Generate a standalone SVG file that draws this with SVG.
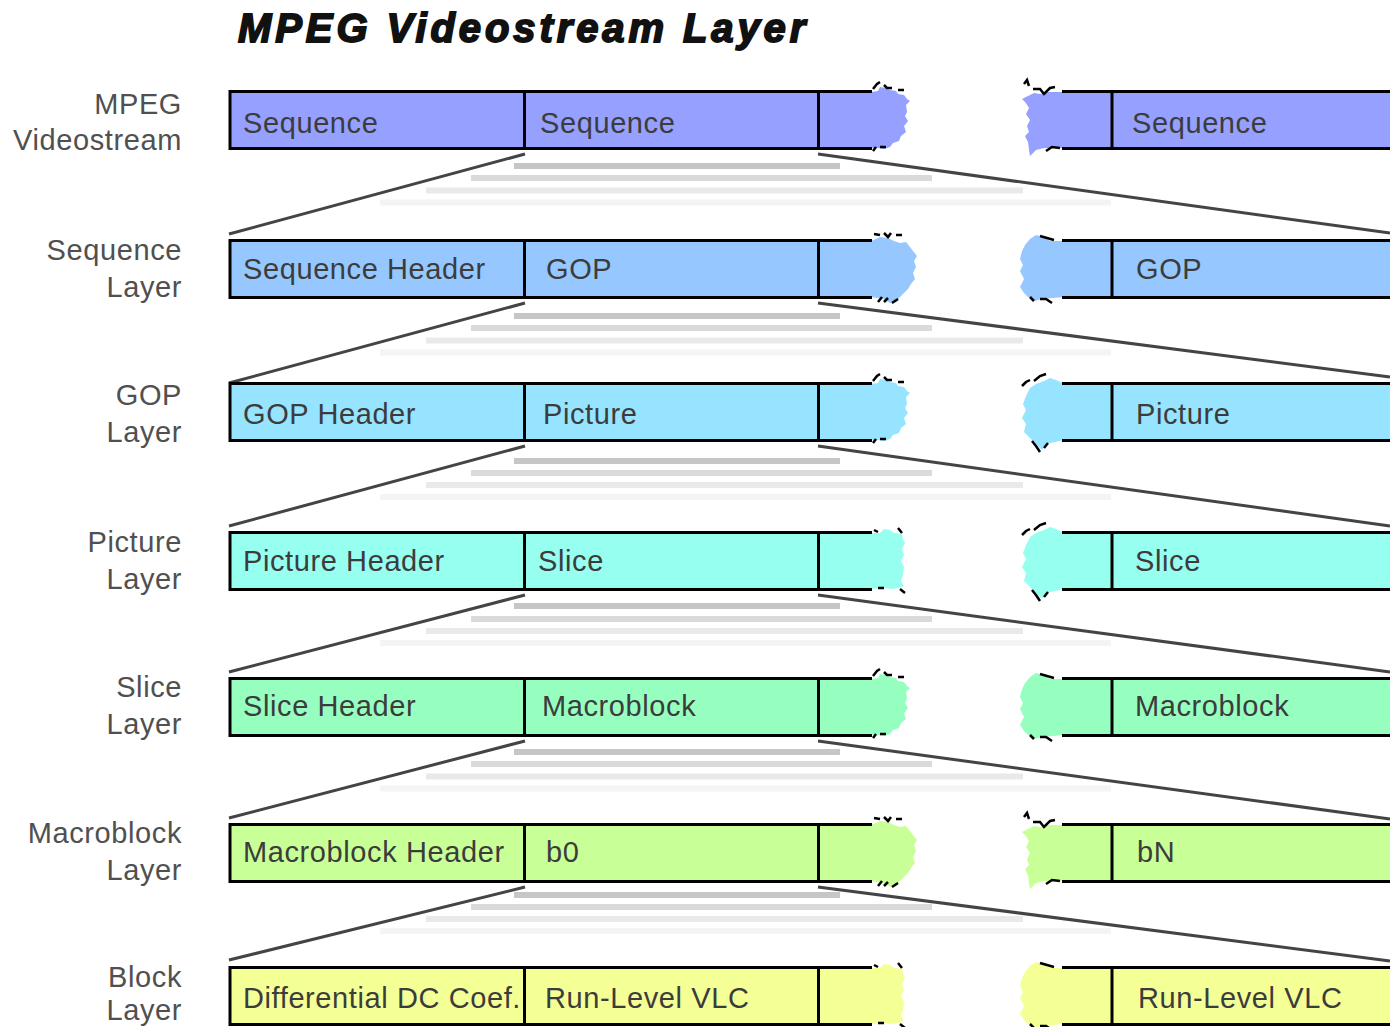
<svg xmlns="http://www.w3.org/2000/svg" xmlns:xlink="http://www.w3.org/1999/xlink" width="1390" height="1027" viewBox="0 0 1390 1027">
<style>
.t{font-family:"Liberation Sans",Arial,sans-serif;font-size:29px;letter-spacing:0.6px;fill:#3c3c3c}
.l{font-family:"Liberation Sans",Arial,sans-serif;font-size:29px;letter-spacing:0.6px;fill:#505050;text-anchor:end}
.title{font-family:"Liberation Sans",Arial,sans-serif;font-size:40px;font-weight:bold;font-style:italic;letter-spacing:3.9px;fill:#111;stroke:#111;stroke-width:1.8px}
.b{fill:none;stroke:#000;stroke-width:3}
.frag{fill:none;stroke:#000;stroke-width:2.5}
.d{stroke:#444;stroke-width:3;fill:none}
.s1{fill:#c6c6c6}.s2{fill:#dadada}.s3{fill:#e9e9e9}.s4{fill:#f4f4f4}
</style>
<defs>
<path id="tlA" d="M871 2L878 1L880 -3L886 -2L890 0L896 1L898 4L904 5L907 9L910 11L906 15L907 22L905 26L908 31L904 36L906 42L901 46L899 51L893 53L890 57L884 59L878 58L871 58Z"/>
<path id="tlkA" class="frag" d="M873 -1L877 -6L880 -8M884 -5L887 -2L892 -2M898 0L904 0M873 61L876 57M880 57L886 57"/>
<path id="tlB" d="M871 2L876 0L880 -2L888 -1L894 2L900 4L906 3L910 8L913 12L917 17L914 22L916 28L913 34L915 40L911 45L908 50L904 54L900 58L896 63L890 64L884 60L878 59L871 58Z"/>
<path id="tlkB" class="frag" d="M874 -5L880 -4M884 -6L888 -2L891 -6M896 -4L902 -4M878 63L882 58M884 63L888 59M892 64L898 60"/>
<path id="tlC" d="M871 2L880 2L884 -2L890 -1L894 2L902 3L903 8L905 12L902 18L904 24L901 30L904 36L903 44L901 50L904 55L898 57L892 58L884 57L871 58Z"/>
<path id="tlkC" class="frag" d="M874 -1L878 1M898 -3L902 2M878 57L884 57M900 58L905 62"/>
<path id="trA" d="M1064 2L1048 2L1040 4L1034 3L1028 6L1022 9L1026 13L1029 18L1026 24L1030 30L1027 36L1029 42L1025 46L1028 52L1029 60L1030 66L1036 60L1044 58L1064 58Z"/>
<path id="trkA" class="frag" d="M1024 -6L1027 -10L1029 -4M1033 -1L1040 -1L1044 4L1050 -2L1055 -3M1046 61L1052 57L1060 58"/>
<path id="trB" d="M1064 2L1050 2L1044 -2L1036 -4L1030 0L1025 6L1022 12L1020 20L1023 26L1020 32L1024 40L1020 48L1024 54L1028 58L1034 62L1042 60L1064 58Z"/>
<path id="trkB" class="frag" d="M1040 -3L1047 -1L1054 1M1030 58L1034 62M1040 60L1046 60L1052 64"/>
<path id="trC" d="M1064 2L1056 -2L1050 -4L1044 -1L1036 2L1030 6L1026 14L1023 22L1026 28L1022 36L1026 42L1024 50L1030 56L1036 62L1042 68L1046 62L1064 58Z"/>
<path id="trkC" class="frag" d="M1022 4L1026 0L1030 -2M1034 -1L1040 -6L1046 -8M1032 59L1036 64L1040 70M1044 66L1048 61"/>
<path id="borderL" class="b" d="M872 1.5H230V58.5H872M524.5 0V60M818.5 0V60"/>
<path id="borderR" class="b" d="M1062 1.5H1392M1062 58.5H1392M1112 0V60"/>
</defs>
<rect width="1390" height="1027" fill="#fff"/>
<text class="title" x="238" y="42">MPEG Videostream Layer</text>

<g id="connectors">
<g id="shadows">
<rect class="s1" x="514" y="163" width="326" height="6"/><rect class="s2" x="471" y="175" width="461" height="6"/><rect class="s3" x="426" y="187.5" width="597" height="6"/><rect class="s4" x="380" y="199.5" width="731" height="6"/>
<rect class="s1" x="514" y="313" width="326" height="6"/><rect class="s2" x="471" y="325" width="461" height="6"/><rect class="s3" x="426" y="337.5" width="597" height="6"/><rect class="s4" x="380" y="349.5" width="731" height="6"/>
<rect class="s1" x="514" y="458" width="326" height="6"/><rect class="s2" x="471" y="470" width="461" height="6"/><rect class="s3" x="426" y="482" width="597" height="6"/><rect class="s4" x="380" y="494" width="731" height="6"/>
<rect class="s1" x="514" y="603" width="326" height="6"/><rect class="s2" x="471" y="616" width="461" height="6"/><rect class="s3" x="426" y="628" width="597" height="6"/><rect class="s4" x="380" y="640" width="731" height="6"/>
<rect class="s1" x="514" y="749" width="326" height="6"/><rect class="s2" x="471" y="761" width="461" height="6"/><rect class="s3" x="426" y="773.5" width="597" height="6"/><rect class="s4" x="380" y="785.5" width="731" height="6"/>
<rect class="s1" x="514" y="892" width="326" height="6"/><rect class="s2" x="471" y="904" width="461" height="6"/><rect class="s3" x="426" y="916" width="597" height="6"/><rect class="s4" x="380" y="928" width="731" height="6"/>
</g>
<path class="d" d="M229 234L525 154M818 154L1390 233"/>
<path class="d" d="M229 383L525 303M818 303L1390 377"/>
<path class="d" d="M229 526L525 446M818 446L1390 526"/>
<path class="d" d="M229 672L525 595M818 595L1390 672"/>
<path class="d" d="M229 818L525 741M818 741L1390 819"/>
<path class="d" d="M229 960L525 887M818 887L1390 961"/>
</g>

<g id="row-videostream" transform="translate(0,90)">
<text class="l" x="182" y="24">MPEG</text><text class="l" x="182" y="60">Videostream</text>
<rect x="230" y="1.5" width="642" height="57" fill="#96a0ff"/><use href="#tlA" fill="#96a0ff"/><use href="#tlkA"/><use href="#borderL"/>
<rect x="1062" y="1.5" width="330" height="57" fill="#96a0ff"/><use href="#trA" fill="#96a0ff"/><use href="#trkA"/><use href="#borderR"/>
<text class="t" x="243" y="43">Sequence</text><text class="t" x="540" y="43">Sequence</text><text class="t" x="1132" y="43">Sequence</text>
</g>

<g id="row-sequence" transform="translate(0,239)">
<text class="l" x="182" y="21">Sequence</text><text class="l" x="182" y="58">Layer</text>
<rect x="230" y="1.5" width="642" height="57" fill="#96c8ff"/><use href="#tlB" fill="#96c8ff"/><use href="#tlkB"/><use href="#borderL"/>
<rect x="1062" y="1.5" width="330" height="57" fill="#96c8ff"/><use href="#trB" fill="#96c8ff"/><use href="#trkB"/><use href="#borderR"/>
<text class="t" x="243" y="40">Sequence Header</text><text class="t" x="546" y="40">GOP</text><text class="t" x="1136" y="40">GOP</text>
</g>

<g id="row-gop" transform="translate(0,382)">
<text class="l" x="182" y="23">GOP</text><text class="l" x="182" y="60">Layer</text>
<rect x="230" y="1.5" width="642" height="57" fill="#96e4ff"/><use href="#tlA" fill="#96e4ff"/><use href="#tlkA"/><use href="#borderL"/>
<rect x="1062" y="1.5" width="330" height="57" fill="#96e4ff"/><use href="#trC" fill="#96e4ff"/><use href="#trkC"/><use href="#borderR"/>
<text class="t" x="243" y="42">GOP Header</text><text class="t" x="543" y="42">Picture</text><text class="t" x="1136" y="42">Picture</text>
</g>

<g id="row-picture" transform="translate(0,531)">
<text class="l" x="182" y="21">Picture</text><text class="l" x="182" y="58">Layer</text>
<rect x="230" y="1.5" width="642" height="57" fill="#96fff0"/><use href="#tlC" fill="#96fff0"/><use href="#tlkC"/><use href="#borderL"/>
<rect x="1062" y="1.5" width="330" height="57" fill="#96fff0"/><use href="#trC" fill="#96fff0"/><use href="#trkC"/><use href="#borderR"/>
<text class="t" x="243" y="40">Picture Header</text><text class="t" x="538" y="40">Slice</text><text class="t" x="1135" y="40">Slice</text>
</g>

<g id="row-slice" transform="translate(0,677)">
<text class="l" x="182" y="20">Slice</text><text class="l" x="182" y="57">Layer</text>
<rect x="230" y="1.5" width="642" height="57" fill="#96ffc0"/><use href="#tlA" fill="#96ffc0"/><use href="#tlkA"/><use href="#borderL"/>
<rect x="1062" y="1.5" width="330" height="57" fill="#96ffc0"/><use href="#trB" fill="#96ffc0"/><use href="#trkB"/><use href="#borderR"/>
<text class="t" x="243" y="39">Slice Header</text><text class="t" x="542" y="39">Macroblock</text><text class="t" x="1135" y="39">Macroblock</text>
</g>

<g id="row-macroblock" transform="translate(0,823)">
<text class="l" x="182" y="20">Macroblock</text><text class="l" x="182" y="57">Layer</text>
<rect x="230" y="1.5" width="642" height="57" fill="#c8ff96"/><use href="#tlB" fill="#c8ff96"/><use href="#tlkB"/><use href="#borderL"/>
<rect x="1062" y="1.5" width="330" height="57" fill="#c8ff96"/><use href="#trA" fill="#c8ff96"/><use href="#trkA"/><use href="#borderR"/>
<text class="t" x="243" y="39">Macroblock Header</text><text class="t" x="546" y="39">b0</text><text class="t" x="1137" y="39">bN</text>
</g>

<g id="row-block" transform="translate(0,966)">
<text class="l" x="182" y="21">Block</text><text class="l" x="182" y="54">Layer</text>
<rect x="230" y="1.5" width="642" height="57" fill="#f4ff96"/><use href="#tlC" fill="#f4ff96"/><use href="#tlkC"/><use href="#borderL"/>
<rect x="1062" y="1.5" width="330" height="57" fill="#f4ff96"/><use href="#trB" fill="#f4ff96"/><use href="#trkB"/><use href="#borderR"/>
<text class="t" x="243" y="42">Differential DC Coef.</text><text class="t" x="545" y="42">Run-Level VLC</text><text class="t" x="1138" y="42">Run-Level VLC</text>
</g>
</svg>
